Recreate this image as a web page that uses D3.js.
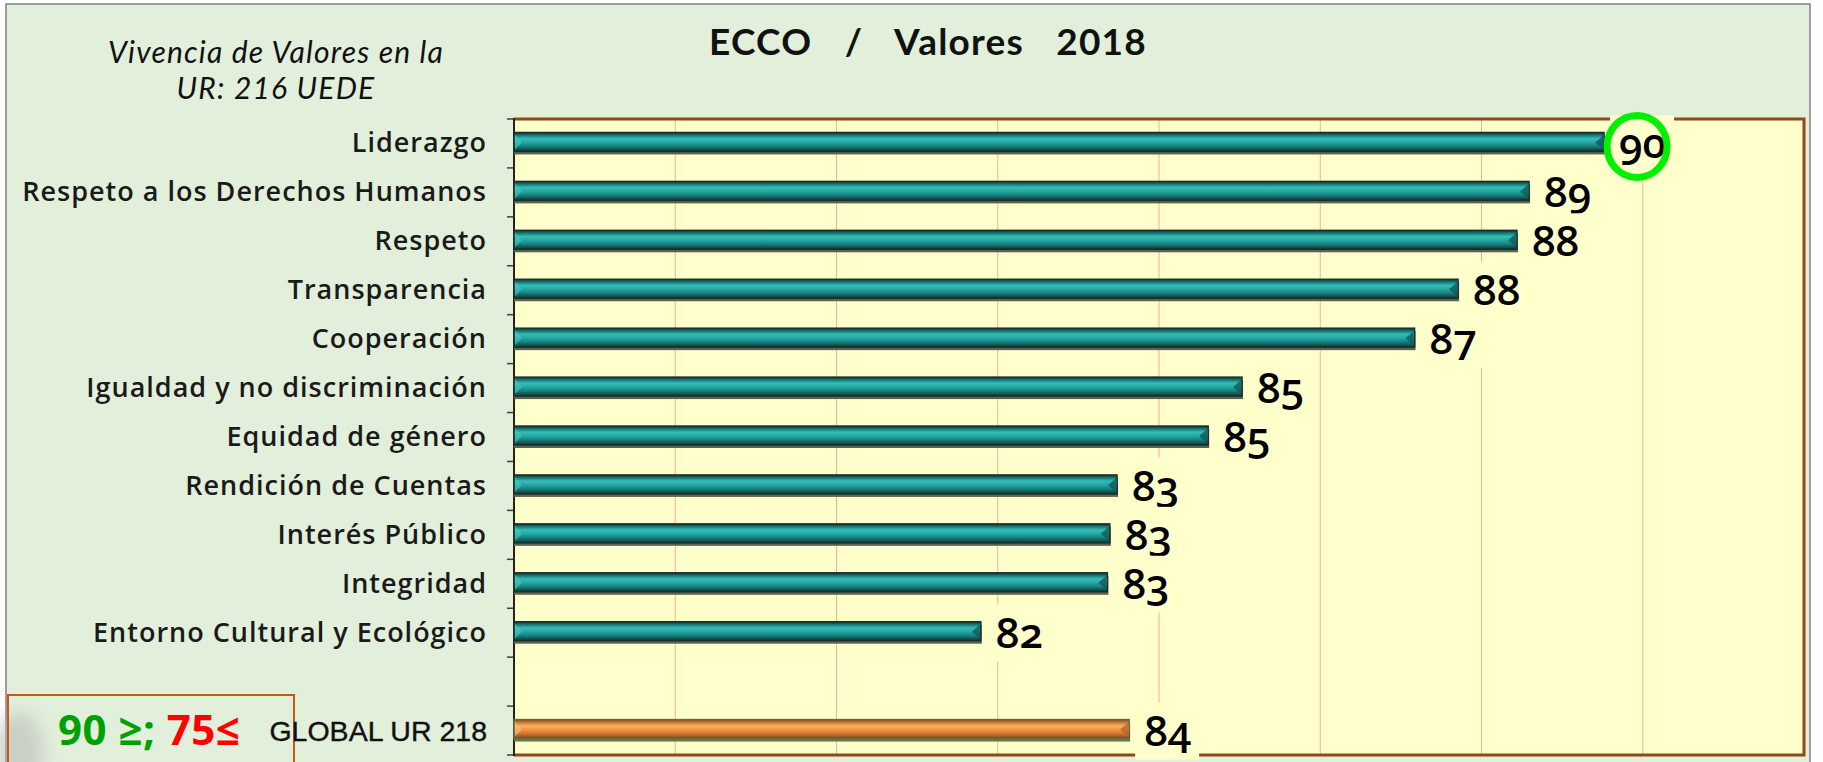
<!DOCTYPE html>
<html>
<head>
<meta charset="utf-8">
<script src="https://cdn.jsdelivr.net/npm/d3@7"></script>
<style>
  html, body { margin: 0; padding: 0; background: #ffffff; }
  svg { display: block; }
</style>
</head>
<body>
<svg id="chart" width="1823" height="762"></svg>
<script>
// ---------- DATA ----------
const categories = [
  "Liderazgo",
  "Respeto a los Derechos Humanos",
  "Respeto",
  "Transparencia",
  "Cooperación",
  "Igualdad y no discriminación",
  "Equidad de género",
  "Rendición de Cuentas",
  "Interés Público",
  "Integridad",
  "Entorno Cultural y Ecológico"
];
const values = [89.52, 88.59, 88.44, 87.71, 87.17, 85.03, 84.61, 83.48, 83.39, 83.36, 81.79];
const globalCategory = "GLOBAL UR 218";
const globalValue = 83.63;
const xDomain = [76, 92];
const gridTicks = [78, 80, 82, 84, 86, 88, 90];
const titleText = "ECCO  /  Valores  2018";
const subtitleLines = ["Vivencia de Valores en la", "UR: 216 UEDE"];
const legendGreen = "90 ≥;";
const legendRed = "75≤";

// ---------- LAYOUT ----------
const svg = d3.select("#chart");
const W = 1823, H = 762;
const plot = { left: 514, right: 1804, top: 119, bottom: 755 };

// frame / background
svg.append("rect").attr("x", 0).attr("y", 0).attr("width", W).attr("height", H).attr("fill", "#ffffff");
svg.append("rect").attr("x", 6).attr("y", 4).attr("width", 1804).attr("height", 770)
  .attr("fill", "#E2EFDA").attr("stroke", "#808080").attr("stroke-width", 1.5);

const defs = svg.append("defs");
function cyl(id, stops) {
  const g = defs.append("linearGradient").attr("id", id)
    .attr("x1", 0).attr("y1", 0).attr("x2", 0).attr("y2", 1);
  stops.forEach(s => g.append("stop").attr("offset", s[0]).attr("stop-color", s[1]));
}
cyl("teal", [[0, "#10302f"], [0.14, "#187370"], [0.32, "#33bdb8"], [0.48, "#29ada8"], [0.72, "#178480"], [0.9, "#0f524f"], [1, "#0b3433"]]);
cyl("orange", [[0, "#7a4a20"], [0.14, "#c8752e"], [0.34, "#f9b062"], [0.5, "#f19a48"], [0.75, "#d0762f"], [0.9, "#9a5a26"], [1, "#6e4a22"]]);
const blur = defs.append("filter").attr("id", "blur").attr("x", "-50%").attr("y", "-50%").attr("width", "200%").attr("height", "200%");
blur.append("feGaussianBlur").attr("stdDeviation", 8);

// smudge bottom-left
svg.append("ellipse").attr("cx", 18).attr("cy", 752).attr("rx", 26).attr("ry", 40)
  .attr("fill", "#b8b8b8").attr("opacity", 0.55).attr("filter", "url(#blur)");

// scales
const x = d3.scaleLinear().domain(xDomain).range([plot.left, plot.right]);
const rows = [...categories, " ", globalCategory];
const y = d3.scaleBand().domain(rows).range([plot.top, plot.bottom]).padding(0);
const bw = y.bandwidth();

// plot background
svg.append("rect").attr("x", plot.left).attr("y", plot.top)
  .attr("width", plot.right - plot.left).attr("height", plot.bottom - plot.top)
  .attr("fill", "#FFFFCC");

// gridlines
svg.append("g").selectAll("line").data(gridTicks).join("line")
  .attr("x1", d => x(d)).attr("x2", d => x(d))
  .attr("y1", plot.top).attr("y2", plot.bottom)
  .attr("stroke", "#F4B48A").attr("stroke-width", 1);

// left axis with ticks at band boundaries
const boundaries = d3.range(rows.length + 1).map(i => plot.top + i * bw);
svg.append("g").selectAll("line").data(boundaries).join("line")
  .attr("x1", plot.left - 7).attr("x2", plot.left)
  .attr("y1", d => d).attr("y2", d => d)
  .attr("stroke", "#404040").attr("stroke-width", 1.5);

// borders
svg.append("path")
  .attr("d", `M${plot.left},${plot.top}H${plot.right}V${plot.bottom}H${plot.left}`)
  .attr("fill", "none").attr("stroke", "#8E4A17").attr("stroke-width", 3);
svg.append("line").attr("x1", plot.left).attr("x2", plot.left)
  .attr("y1", plot.top - 1).attr("y2", plot.bottom + 1)
  .attr("stroke", "#2b2118").attr("stroke-width", 2);

// bars
const barData = categories.map((c, i) => ({ cat: c, v: values[i], global: false }));
barData.push({ cat: globalCategory, v: globalValue, global: true });
const fmt = d3.format(".0f");

const bars = svg.append("g");
barData.forEach(d => {
  const c = y(d.cat) + bw / 2;
  const x0 = x(xDomain[0]);
  const xe = x(d.v);
  const top = c - 11, h = 19;
  // shadow
  bars.append("rect").attr("x", x0).attr("y", top + 3).attr("width", xe - x0 + 1).attr("height", h)
    .attr("fill", d.global ? "#6a7748" : "#5b6450");
  bars.append("rect").attr("x", x0).attr("y", top).attr("width", xe - x0).attr("height", h)
    .attr("fill", d.global ? "url(#orange)" : "url(#teal)")
    .attr("stroke", d.global ? "#5f6d40" : "#1b2d2b").attr("stroke-width", 1.4);
  // right-end bevel
  bars.append("path")
    .attr("d", `M${xe - 9},${c - 1}L${xe - 1},${top + 3}L${xe - 1},${top + h - 2}Z`)
    .attr("fill", d.global ? "#b8642a" : "#0f5a57").attr("opacity", 0.8);
  bars.append("path")
    .attr("d", `M${x0 + 1},${top + 2}L${x0 + 8},${c - 1}L${x0 + 1},${top + h - 2}Z`)
    .attr("fill", d.global ? "#f7c080" : "#49c7c1").attr("opacity", 0.6);
});

// value labels with background boxes
const labG = svg.append("g");
barData.forEach(d => {
  const c = y(d.cat) + bw / 2;
  const xe = x(d.v);
  labG.append("rect").attr("x", xe + 6).attr("y", c - 28).attr("width", 64).attr("height", 57)
    .attr("fill", "#FFFFCC");
  labG.append("text").attr("x", xe + 15).attr("y", c + 15)
    .attr("font-family", "'Open Sans', 'Noto Sans', sans-serif")
    .attr("font-weight", 600).attr("font-size", 42)
    .style("font-feature-settings", "'onum' 1")
    .attr("fill", "#000").text(fmt(d.v));
});

// highlight circle around the maximum
const maxVal = d3.max(values);
const maxCat = categories[values.indexOf(maxVal)];
svg.append("ellipse")
  .attr("cx", x(maxVal) + 33).attr("cy", y(maxCat) + bw / 2 + 3)
  .attr("rx", 30).attr("ry", 31)
  .attr("fill", "none").attr("stroke", "#00F000").attr("stroke-width", 7);

// category labels
svg.append("g").selectAll("text").data(categories).join("text")
  .attr("x", 487).attr("y", d => y(d) + bw / 2 + 9)
  .attr("text-anchor", "end")
  .attr("font-family", "'Open Sans', sans-serif").attr("font-weight", 600)
  .attr("font-size", 27).attr("letter-spacing", 1)
  .attr("fill", "#1a1a1a").text(d => d);

// title
svg.append("text").attr("x", 928).attr("y", 55).attr("text-anchor", "middle")
  .attr("font-family", "Lato, sans-serif").attr("font-weight", 700).attr("font-size", 37)
  .attr("letter-spacing", 1.2).attr("word-spacing", 6).style("white-space", "pre").attr("xml:space", "preserve")
  .attr("fill", "#111").text(titleText);

// subtitle
svg.append("g").selectAll("text").data(subtitleLines).join("text")
  .attr("x", 276).attr("y", (d, i) => 63 + i * 36).attr("text-anchor", "middle")
  .attr("font-family", "Lato, sans-serif").attr("font-style", "italic").attr("font-weight", 400)
  .attr("font-size", 30).attr("letter-spacing", 1.2)
  .attr("fill", "#111").text(d => d);

// legend box
svg.append("rect").attr("x", 8).attr("y", 695).attr("width", 286).attr("height", 80)
  .attr("fill", "none").attr("stroke", "#C55A11").attr("stroke-width", 2);
const lt = svg.append("text").attr("x", 58).attr("y", 745)
  .attr("font-family", "'Open Sans', sans-serif").attr("font-weight", 700).attr("font-size", 42)
  .attr("letter-spacing", 0.5)
  .style("white-space", "pre").attr("xml:space", "preserve");
lt.append("tspan").attr("fill", "#00A000").text(legendGreen + " ");
lt.append("tspan").attr("fill", "#FF0000").text(legendRed);

// global label
svg.append("text").attr("x", 487).attr("y", y(globalCategory) + bw / 2 + 10)
  .attr("text-anchor", "end")
  .attr("font-family", "'Liberation Sans', Arial, sans-serif").attr("font-size", 28.5)
  .attr("stroke", "#111").attr("stroke-width", 0.4)
  .attr("fill", "#111").text(globalCategory);
</script>
</body>
</html>
